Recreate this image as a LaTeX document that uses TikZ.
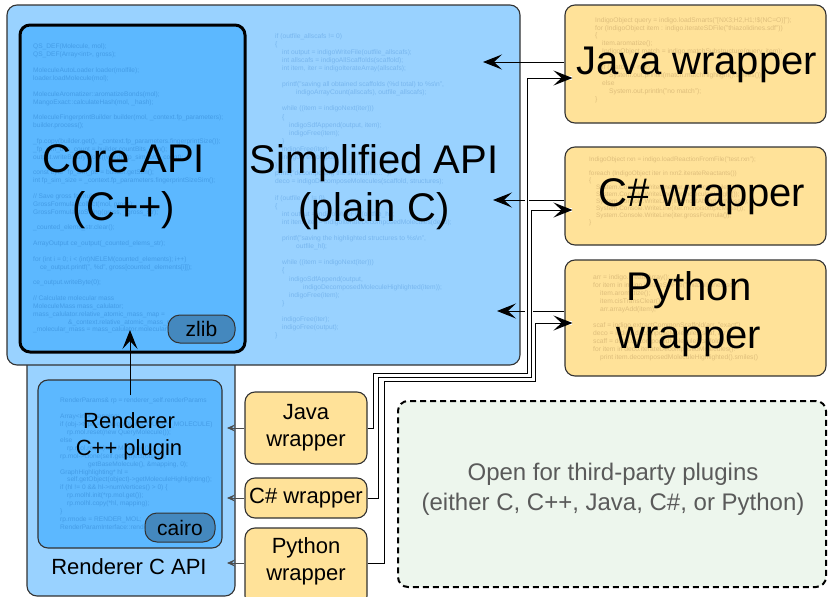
\documentclass[tikz,border=0pt]{standalone}
\usepackage{fontspec}
\setmainfont{Liberation Sans}
\usetikzlibrary{positioning, arrows.meta, calc}

\definecolor{simpblue}{RGB}{153,210,255}
\definecolor{coreblue}{RGB}{92,184,255}
\definecolor{libblue}{RGB}{68,136,190}
\definecolor{wrapyellow}{RGB}{255,226,153}
\definecolor{opengreen}{RGB}{237,246,237}
\definecolor{boxline}{RGB}{50,50,50}
\definecolor{corecode}{RGB}{68,156,230}
\definecolor{simpcode}{RGB}{120,182,238}
\definecolor{wrapcode}{RGB}{222,190,124}
\definecolor{opentext}{RGB}{90,90,90}

\newcommand{\codeind}{\hspace*{7pt}}
\newcommand{\codegap}{\\ \mbox{}\\}

\begin{document}
\begin{tikzpicture}[x=1pt, y=-1pt,
  apibox/.style={draw=boxline, line width=1.1pt, rounded corners=10pt, inner sep=0pt},
  libbox/.style={draw=boxline, line width=1pt, rounded corners=12pt, fill=libblue, inner sep=0pt, font=\fontsize{21}{24}\selectfont},
  wrapbox/.style={apibox, fill=wrapyellow},
  code/.style={anchor=north west, inner sep=0pt, align=left},
  biglabel/.style={align=center, font=\fontsize{40}{48}\selectfont},
  smalllabel/.style={align=center, font=\fontsize{22}{27}\selectfont}]
\useasboundingbox (0,0) rectangle (828,597);
\tikzset{bigtip/.style={-{Stealth[length=19pt,width=15pt,inset=8pt]}, line width=1pt}}
\tikzset{smalltip/.style={-{Stealth[length=8pt,width=7pt,inset=3pt]}, draw=black!70, line width=0.9pt}}
\tikzset{feed/.style={bigtip, preaction={draw=white, line width=3.5pt, -}}}

% renderer part
\node[apibox, fill=simpblue, minimum width=208pt, minimum height=256pt] (rapi) at (131,468) {};
\node[apibox, fill=coreblue, minimum width=184pt, minimum height=168pt] (rplug) at (130,464) {};
\node[code, text=corecode, font=\fontsize{6.6}{7.9}\selectfont] (rcode) at (60,398) {RenderParams\& rp = renderer\_self.renderParams\codegap
Array<int> mapping;\\
if (obj->type == IndigoObject::QUERY\_MOLECULE)\\
\codeind rp.mol.reset(new QueryMolecule());\\
else\\
\codeind rp.mol.reset(new Molecule());\\
rp.mol->clone(self.getObject(object).\\
\codeind\codeind\codeind\codeind getBaseMolecule(), \&mapping, 0);\\
GraphHighlighting* hl =\\
\codeind self.getObject(object)->getMoleculeHighlighting();\\
if (hl != 0 \&\& hl->numVertices() > 0) \{\\
\codeind rp.molhl.init(*rp.mol.get());\\
\codeind rp.molhl.copy(*hl, mapping);\\
\}\\
rp.rmode = RENDER\_MOL;\\
RenderParamInterface::render(rp);};
\node[libbox, minimum width=70pt, minimum height=29pt] (cairo) at (180,527.5) {cairo};
\node[smalllabel] (rplugtext) at (129,436) {Renderer\\C++ plugin};
\node[smalllabel] (rapitext) at (129,567) {Renderer C API};

% simplified and core API
\node[apibox, fill=simpblue, minimum width=513pt, minimum height=360pt] (simp) at (263.5,185) {};
\node[code, text=simpcode, font=\fontsize{6.7}{8.1}\selectfont] (scode) at (275,33) {if (outfile\_allscafs != 0)\\
\{\\
\codeind int output = indigoWriteFile(outfile\_allscafs);\\
\codeind int allscafs = indigoAllScaffolds(scaffold);\\
\codeind int item, iter = indigoIterateArray(allscafs);\codegap
\codeind printf("saving all obtained scaffolds (\%d total) to \%s\textbackslash n",\\
\codeind\codeind\codeind indigoArrayCount(allscafs), outfile\_allscafs);\codegap
\codeind while ((item = indigoNext(iter)))\\
\codeind \{\\
\codeind\codeind indigoSdfAppend(output, item);\\
\codeind\codeind indigoFree(item);\\
\codeind \}\\
\codeind indigoFree(iter);\\
\codeind indigoFree(output);\\
\}\\
printf("decomposing the structures... ");\\
deco = indigoDecomposeMolecules(scaffold, structures);\codegap
if (outfile\_hl != 0)\\
\{\\
\codeind int output = indigoWriteFile(outfile\_hl);\\
\codeind int item, iter = indigoIterateDecomposedMolecules(deco);\codegap
\codeind printf("saving the highlighted structures to \%s\textbackslash n",\\
\codeind\codeind\codeind outfile\_hl);\codegap
\codeind while ((item = indigoNext(iter)))\\
\codeind \{\\
\codeind\codeind indigoSdfAppend(output,\\
\codeind\codeind\codeind\codeind indigoDecomposedMoleculeHighlighted(item));\\
\codeind\codeind indigoFree(item);\\
\codeind \}\codegap
\codeind indigoFree(iter);\\
\codeind indigoFree(output);\\
\}};
\node[apibox, fill=coreblue, draw=black, line width=3pt, minimum width=225pt, minimum height=327pt] (core) at (132.5,188.5) {};
\node[code, text=corecode, font=\fontsize{6.6}{7.86}\selectfont] (ccode) at (33,44) {QS\_DEF(Molecule, mol);\\
QS\_DEF(Array<int>, gross);\codegap
MoleculeAutoLoader loader(molfile);\\
loader.loadMolecule(mol);\codegap
MoleculeAromatizer::aromatizeBonds(mol);\\
MangoExact::calculateHash(mol, \_hash);\codegap
MoleculeFingerprintBuilder builder(mol, \_context.fp\_parameters);\\
builder.process();\codegap
\_fp.copy(builder.get(), \_context.fp\_parameters.fingerprintSize());\\
\_fp\_sim\_bits\_count = builder.countBits\_Sim();\\
output.writeBinaryWord((word)\_fp\_sim\_bits\_count);\codegap
const byte* fp\_sim\_ptr = builder.getSim();\\
int fp\_sim\_size = \_context.fp\_parameters.fingerprintSizeSim();\codegap
// Save gross formula\\
GrossFormula::collect(mol, gross);\\
GrossFormula::toString(gross, \_gross\_str);\codegap
\_counted\_elems\_str.clear();\codegap
ArrayOutput ce\_output(\_counted\_elems\_str);\codegap
for (int i = 0; i < (int)NELEM(counted\_elements); i++)\\
\codeind ce\_output.printf(", \%d", gross[counted\_elements[i]]);\codegap
ce\_output.writeByte(0);\codegap
// Calculate molecular mass\\
MoleculeMass mass\_calulator;\\
mass\_calulator.relative\_atomic\_mass\_map =\\
\codeind\codeind\codeind\codeind\codeind \&\_context.relative\_atomic\_mass\_map;\\
\_molecular\_mass = mass\_calulator.molecularWeight(mol);};
\node[libbox, minimum width=67pt, minimum height=28pt] (zlib) at (201.5,329) {zlib};
\node[biglabel] (coretext) at (124,187) {Core API\\(C++)};
\node[biglabel] (simptext) at (374,187) {Simplified API\\(plain C)};

% wrappers
\node[wrapbox, minimum width=261pt, minimum height=118pt] (java) at (695.5,64) {};
\node[code, text=wrapcode, font=\fontsize{6.7}{7.9}\selectfont] (jcode) at (595,17) {IndigoObject query = indigo.loadSmarts("[NX3;H2,H1;!\$(NC=O)]");\\
for (IndigoObject item : indigo.iterateSDFile("thiazolidines.sdf"))\\
\{\\
\codeind item.aromatize();\\
\codeind IndigoObject match = indigo.matchSubstructure(query, item);\codegap
\codeind if (match != null)\\
\codeind\codeind System.out.println(match.matchHighlight().smiles());\\
\codeind else\\
\codeind\codeind System.out.println("no match");\\
\}};
\node[biglabel] (javatext) at (697,65) {Java wrapper};

\node[wrapbox, minimum width=261pt, minimum height=98pt] (cs) at (695.5,196) {};
\node[code, text=wrapcode, font=\fontsize{6.4}{7}\selectfont] (cscode) at (589,157) {IndigoObject rxn = indigo.loadReactionFromFile("test.rxn");\codegap
foreach (IndigoObject iter in rxn2.iterateReactants())\\
\{\\
\codeind System.Console.WriteLine(iter.canonicalSmiles());\\
\codeind System.Console.WriteLine(iter.molecularWeight());\\
\codeind System.Console.WriteLine(iter.mostAbundantMass());\\
\codeind System.Console.WriteLine(iter.monoisotopicMass());\\
\codeind System.Console.WriteLine(iter.grossFormula());\\
\}};
\node[biglabel] (cstext) at (702,197) {C\# wrapper};

\node[wrapbox, minimum width=261pt, minimum height=116pt] (py) at (695.5,318) {};
\node[code, text=wrapcode, font=\fontsize{6.7}{8}\selectfont] (pycode) at (593,274) {arr = indigo.createArray();\\
for item in indigo.iterateSDFile("thiazolidines.sdf"):\\
\codeind item.aromatize();\\
\codeind item.cisTransClear();\\
\codeind arr.arrayAdd(item);\codegap
scaf = indigo.extractCommonScaffold(arr, "exact")\\
deco = indigo.decomposeMolecules(scaf, arr)\\
scaff = deco.decomposedMoleculeScaffold()\\
for item in deco.iterateDecomposedMolecules():\\
\codeind print item.decomposedMoleculeHighlighted().smiles()};
\node[biglabel] (pytext) at (689,314) {Python\\wrapper};

\node[wrapbox, minimum width=122pt, minimum height=72pt, smalllabel] (javaS) at (306,428) {Java\\wrapper};
\node[wrapbox, minimum width=122pt, minimum height=40pt, smalllabel] (csS) at (306,498) {C\# wrapper};
\node[wrapbox, minimum width=122pt, minimum height=78pt] (pyS) at (306,567) {};
\node[smalllabel] (pyStext) at (306,561) {Python\\wrapper};

\node[apibox, fill=opengreen, draw=black, line width=2pt, dash pattern=on 6pt off 4pt, minimum width=428pt, minimum height=186pt] (open) at (612,494) {};
\node[align=center, text=opentext, font=\fontsize{24}{30}\selectfont] (opentext) at (613,489) {Open for third-party plugins\\(either C, C++, Java, C\#, or Python)};

% connectors
\coordinate (plugOut) at (130,395);
\coordinate (coreIn) at (130,330);
\coordinate (javaIn) at (483,62);
\coordinate (csIn) at (493,200);
\coordinate (pyIn) at (497,311);
\coordinate (rjavaIn) at (227,428);
\coordinate (rcsIn) at (227,498);
\coordinate (rpyIn) at (227,563);

\draw[bigtip] (plugOut) -- (coreIn);
\draw[bigtip] ([yshift=2pt]java.west) -- (javaIn);
\draw[bigtip] ([yshift=-4pt]cs.west) -- (csIn);
\draw[bigtip] ([yshift=7pt]py.west) -- (pyIn);
\draw[feed] (javaS.east) -| (373,373) -| (527,78) -- ([xshift=8pt,yshift=-14pt]java.west);
\draw[feed] (csS.east) -| (378,377) -| (531,210) -- ([xshift=8pt,yshift=-14pt]cs.west);
\draw[feed] (pyS.east |- rpyIn) -| (384,381) -| (535,323) -- ([xshift=8pt,yshift=-5pt]py.west);
\draw[smalltip] (javaS.west) -- (rjavaIn);
\draw[smalltip] (csS.west) -- (rcsIn);
\draw[smalltip] (pyS.west |- rpyIn) -- (rpyIn);
\end{tikzpicture}
\end{document}
